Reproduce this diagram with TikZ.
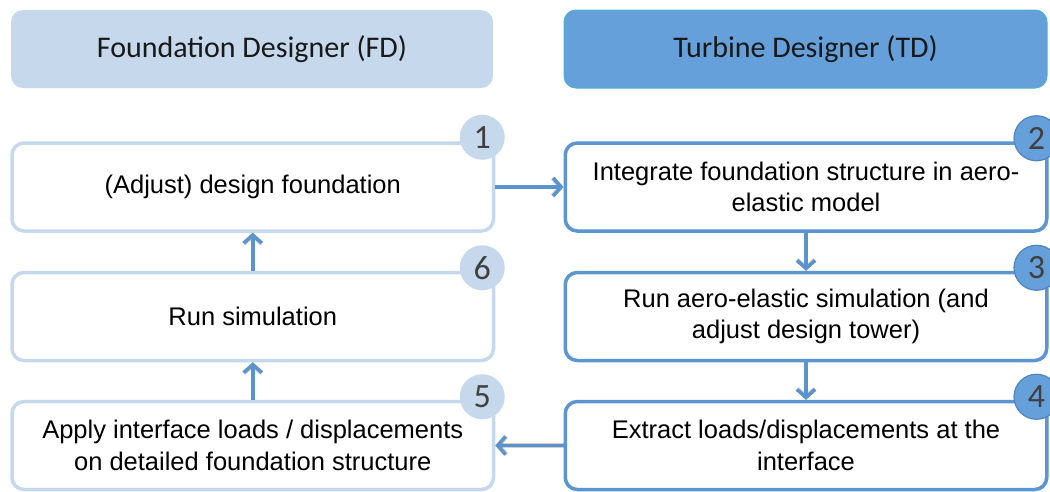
\documentclass[tikz,border=0pt]{standalone}
\usepackage{fontspec}
\setmainfont{Liberation Sans}
\newfontfamily\headfont{Carlito}
\usetikzlibrary{arrows.meta,calc}

\definecolor{fdfill}{HTML}{C5D8EC}
\definecolor{tdfill}{HTML}{65A0DA}
\definecolor{tdrim}{HTML}{4FB2CE}
\definecolor{fdline}{HTML}{C5D8EC}
\definecolor{tdline}{HTML}{5C95D0}
\definecolor{flowline}{HTML}{5B93CD}
\definecolor{tdcircrim}{HTML}{4F86C0}
\definecolor{numtext}{HTML}{404040}

\tikzset{
  x=1pt, y=-1pt,
  header/.style={rounded corners=12pt, minimum width=482pt, minimum height=78pt,
    inner sep=0pt, font=\headfont\fontsize{30}{36}\selectfont, text=black!90},
  fdbox/.style={draw=fdline, line width=3.5pt, fill=white, rounded corners=12pt,
    minimum width=481.5pt, minimum height=88pt, inner sep=0pt, align=center,
    font=\fontsize{25.5}{31.5}\selectfont},
  tdbox/.style={fdbox, draw=tdline},
  fdnum/.style={circle, fill=fdfill, minimum size=45pt, inner sep=0pt,
    font=\headfont\fontsize{34}{34}\selectfont, text=numtext},
  tdnum/.style={fdnum, fill=tdfill, draw=tdcircrim, line width=1.2pt},
  flow/.style={draw=flowline, line width=3.5pt,
    -{Straight Barb[length=8pt, width=18pt, line width=3.5pt]}},
  flowshadow/.style={draw=black, opacity=0.18, line width=4.5pt,
    -{Straight Barb[length=8pt, width=18pt, line width=4.5pt]}},
}

\begin{document}
\begin{tikzpicture}
\useasboundingbox (0,0) rectangle (1050,491);

% column headers
\node[header, fill=fdfill] (hfd) at (252,49) {Foundation Designer (FD)};
\node[header, fill=tdfill, draw=tdrim, line width=1pt, minimum width=483pt] (htd) at (805.5,49) {Turbine Designer (TD)};

% process steps
\node[fdbox] (s1) at (252.75,187)   {(Adjust) design foundation};
\node[fdbox] (s6) at (252.75,316.5) {Run simulation};
\node[fdbox] (s5) at (252.75,445.5) {Apply interface loads / displacements\\on detailed foundation structure};
\node[tdbox] (s2) at (806,187)   {Integrate foundation structure in aero-\\elastic model};
\node[tdbox] (s3) at (806,316.5) {Run aero-elastic simulation (and\\adjust design tower)};
\node[tdbox] (s4) at (806,445.5) {Extract loads/displacements at the\\interface};

% step numbers
\node[fdnum] (n1) at ($(s1.north east)+(-13,-4)$) {1};
\node[fdnum] (n6) at ($(s6.north east)+(-13,-3)$) {6};
\node[fdnum] (n5) at ($(s5.north east)+(-13,-3)$) {5};
\node[tdnum] (n2) at ($(s2.north east)+(-12,-3)$) {2};
\node[tdnum] (n3) at ($(s3.north east)+(-12,-3)$) {3};
\node[tdnum] (n4) at ($(s4.north east)+(-12,-3)$) {4};

% soft shadows under the flow arrows
\begin{scope}[shift={(1.5,2)}]
  \draw[flowshadow] (s1.east) -- (s2.west);
  \draw[flowshadow] (s2.south) -- (s3.north);
  \draw[flowshadow] (s3.south) -- (s4.north);
  \draw[flowshadow] (s4.west) -- (s5.east);
  \draw[flowshadow] (s5.north) -- (s6.south);
  \draw[flowshadow] (s6.north) -- (s1.south);
\end{scope}

% flow arrows
\draw[flow] (s1.east) -- (s2.west);
\draw[flow] (s2.south) -- (s3.north);
\draw[flow] (s3.south) -- (s4.north);
\draw[flow] (s4.west) -- (s5.east);
\draw[flow] (s5.north) -- (s6.south);
\draw[flow] (s6.north) -- (s1.south);
\end{tikzpicture}
\end{document}
